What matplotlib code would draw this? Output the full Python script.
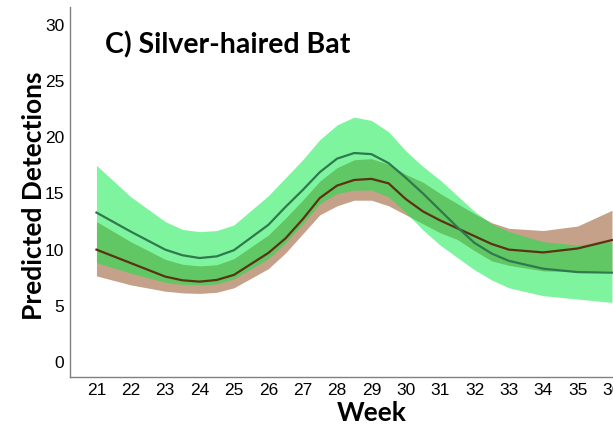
import matplotlib
matplotlib.use("Agg")
from matplotlib import pyplot as plt

# Values
weeks = [21, 22, 23, 23.5, 24, 24.5, 25, 26, 26.5, 27, 27.5, 28, 28.5, 29, 29.5, 30,
         30.5, 31, 31.5, 32, 32.5, 33, 34, 35, 36]

green_mean = [13.3, 11.6, 10.0, 9.5, 9.25, 9.4, 9.95, 12.2, 13.8, 15.3, 16.9, 18.1, 18.6, 18.5,
              17.7, 16.4, 15.0, 13.5, 12.0, 10.6, 9.65, 9.0, 8.3, 8.0, 7.95]
green_upper = [17.5, 14.7, 12.5, 11.8, 11.6, 11.7, 12.2, 14.8, 16.4, 18.0, 19.8, 21.1, 21.8, 21.5,
               20.5, 18.8, 17.4, 16.2, 14.8, 13.4, 12.3, 11.6, 10.7, 10.4, 10.7]
green_lower = [8.85, 7.9, 7.1, 6.9, 6.86, 6.95, 7.4, 9.2, 10.6, 12.3, 14.1, 15.0, 15.3, 15.3,
               14.7, 13.3, 11.75, 10.4, 9.3, 8.2, 7.3, 6.6, 5.9, 5.6, 5.3]

brown_mean = [10.0, 8.8, 7.6, 7.27, 7.15, 7.3, 7.75, 9.7, 11.0, 12.7, 14.6, 15.7, 16.2, 16.3,
              15.9, 14.5, 13.4, 12.6, 11.9, 11.2, 10.5, 10.0, 9.75, 10.1, 10.85]
brown_upper = [12.5, 10.7, 9.14, 8.7, 8.55, 8.65, 9.2, 11.3, 12.8, 14.4, 16.1, 17.3, 18.0, 18.1,
               17.6, 16.7, 16.0, 15.0, 14.1, 13.2, 12.4, 11.9, 11.7, 12.1, 13.5]
brown_lower = [7.66, 6.86, 6.3, 6.15, 6.1, 6.2, 6.6, 8.3, 9.7, 11.4, 13.1, 13.9, 14.4, 14.4,
               13.9, 13.1, 12.3, 11.5, 10.9, 9.9, 9.0, 8.6, 8.1, 8.05, 8.1]

xticks = list(range(21, 37))
yticks = [0, 5, 10, 15, 20, 25, 30]

fig = plt.figure(figsize=(6.13, 4.26), dpi=100)
ax = fig.add_axes([70 / 613, 1 - 377 / 426, 1 - 70 / 613, (377 - 7) / 426])

# confidence bands first, then the fitted lines on top
ax.fill_between(weeks, brown_lower, brown_upper, color='#8B4513', alpha=0.5, linewidth=0)
ax.fill_between(weeks, green_lower, green_upper, color='#00EB41', alpha=0.5, linewidth=0)
ax.plot(weeks, brown_mean, color='#5A3212', linewidth=1.6)
ax.plot(weeks, green_mean, color='#2E7A4E', linewidth=1.6)

ax.set_xlim(20.23, 36.03)
ax.set_ylim(-1.34, 31.6)
ax.set_xticks(xticks)
ax.set_yticks(yticks)
ax.tick_params(length=0, labelsize=12.5, pad=4)
for lab in ax.get_xticklabels() + ax.get_yticklabels():
    lab.set_fontfamily('Liberation Sans')

for side in ['top', 'right']:
    ax.spines[side].set_visible(False)
for side in ['left', 'bottom']:
    ax.spines[side].set_color('#808080')
    ax.spines[side].set_linewidth(1.0)

ax.set_xlabel('Week', fontsize=19, fontweight='bold', family='Lato')
ax.xaxis.set_label_coords((372 - 70) / 543, -0.065)
ax.set_ylabel('Predicted Detections', fontsize=19, fontweight='bold', family='Lato')
ax.yaxis.set_label_coords(-0.044, 0.49)

fig.text(105 / 613, 1 - 45 / 426, 'C) Silver-haired Bat', fontsize=20.5,
         fontweight='bold', family='Lato', ha='left', va='center')

fig.savefig('out.png', dpi=100)
